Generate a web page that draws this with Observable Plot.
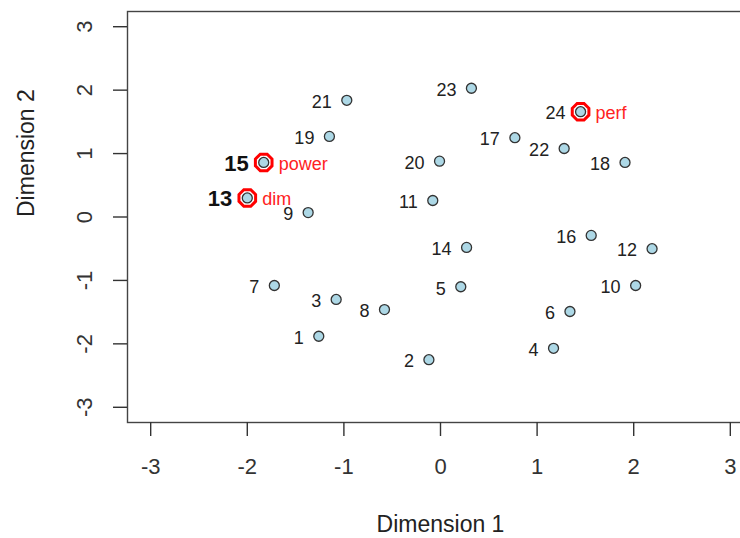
<!DOCTYPE html>
<html>
<head>
<meta charset="utf-8">
<script src="https://cdn.jsdelivr.net/npm/d3@7"></script>
<script src="https://cdn.jsdelivr.net/npm/@observablehq/plot@0.6"></script>
<style>
  html, body { margin: 0; padding: 0; background: #fff; overflow: hidden; }
  #wrap { width: 740px; height: 538px; overflow: hidden; }
  #wrap svg { max-width: none !important; }
</style>
</head>
<body>
<div id="wrap"></div>
<script>
// Point ids and coordinates (MDS configuration)
const ids = [1, 2, 3, 4, 5, 6, 7, 8, 9, 10, 11, 12, 13, 14, 15, 16, 17, 18, 19, 20, 21, 22, 23, 24];
const dim1 = [-1.26, -0.12, -1.08, 1.17, 0.21, 1.34, -1.72, -0.58, -1.37, 2.02, -0.08, 2.19, -2.00, 0.27, -1.83, 1.56, 0.77, 1.91, -1.15, -0.01, -0.97, 1.28, 0.32, 1.45];
const dim2 = [-1.88, -2.25, -1.30, -2.07, -1.10, -1.49, -1.08, -1.46, 0.07, -1.08, 0.26, -0.50, 0.30, -0.48, 0.86, -0.29, 1.25, 0.86, 1.27, 0.88, 1.84, 1.08, 2.03, 1.66];
// Highlighted items and their names
const highlightIds = [15, 13, 24];
const highlightNames = ["power", "dim", "perf"];
const boldIds = [15, 13];
// Axis ticks
const xTicks = [-3, -2, -1, 0, 1, 2, 3];
const yTicks = [-3, -2, -1, 0, 1, 2, 3];

const points = ids.map((id, i) => ({id, x: dim1[i], y: dim2[i]}));
const byId = new Map(points.map(p => [p.id, p]));
const highlighted = highlightIds.map((id, i) => ({...byId.get(id), name: highlightNames[i]}));
const normalLabels = points.filter(p => !boldIds.includes(p.id));
const boldLabels = points.filter(p => boldIds.includes(p.id));

const octagon = {
  draw(context, size) {
    const r = Math.sqrt(size / Math.PI);
    for (let k = 0; k < 8; k++) {
      const a = Math.PI / 8 + k * Math.PI / 4;
      const px = r * Math.cos(a), py = r * Math.sin(a);
      if (k === 0) context.moveTo(px, py); else context.lineTo(px, py);
    }
    context.closePath();
  }
};

const font = "'Liberation Sans', Arial, Helvetica, sans-serif";

const chart = Plot.plot({
  width: 753,
  height: 538,
  marginLeft: 127,
  marginRight: 0,
  marginTop: 11,
  marginBottom: 116,
  style: {fontFamily: font, background: "#fff", maxWidth: "none"},
  x: {domain: [-3.24, 3.24]},
  y: {domain: [-3.24, 3.24]},
  marks: [
    Plot.frame({stroke: "#444", strokeWidth: 1.4}),
    Plot.axisX({ticks: xTicks, tickSize: 14, tickPadding: 22, fontSize: 22, color: "#333", strokeWidth: 1.4, label: null, tickFormat: d => String(d)}),
    Plot.axisY({ticks: yTicks, tickSize: 14, tickPadding: 22, fontSize: 22, color: "#333", strokeWidth: 1.4, label: null, tickRotate: -90, tickFormat: d => String(d)}),
    Plot.text(["Dimension 1"], {frameAnchor: "bottom", dy: 109, fontSize: 23, fill: "#222", text: d => d}),
    Plot.text(["Dimension 2"], {frameAnchor: "left", dx: -101, rotate: -90, fontSize: 23, fill: "#222", text: d => d}),
    Plot.dot(highlighted, {x: "x", y: "y", r: 9, symbol: octagon, fill: "none", stroke: "red", strokeWidth: 3}),
    Plot.dot(points, {x: "x", y: "y", r: 5, fill: "#add8e6", stroke: "#333", strokeWidth: 1.3}),
    Plot.text(normalLabels, {x: "x", y: "y", text: d => String(d.id), textAnchor: "end", dx: -15, dy: 2, fontSize: 18, fill: "#222"}),
    Plot.text(boldLabels, {x: "x", y: "y", text: d => String(d.id), textAnchor: "end", dx: -15, dy: 1, fontSize: 22, fontWeight: "bold", fill: "#111"}),
    Plot.text(highlighted, {x: "x", y: "y", text: "name", textAnchor: "start", dx: 15, dy: 1.5, fontSize: 18, fill: "#ff2222"})
  ]
});
document.getElementById("wrap").appendChild(chart);
</script>
</body>
</html>
